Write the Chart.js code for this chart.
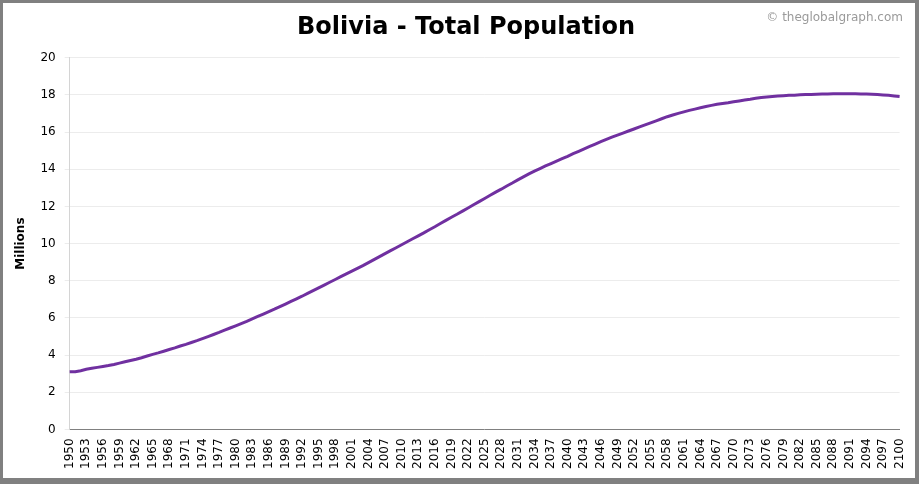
<!DOCTYPE html>
<html>
<head>
<meta charset="utf-8">
<title>Bolivia - Total Population</title>
<script src="https://cdn.jsdelivr.net/npm/chart.js@4.4.0/dist/chart.umd.min.js"></script>
<style>
    html, body { margin: 0; padding: 0; width: 919px; height: 484px; overflow: hidden; background: #808080; }
    #marco { position: absolute; left: 3px; top: 3px; width: 912px; height: 475px; background: #fff; overflow: hidden; }
    #lienzo { position: absolute; left: 0; top: 0; width: 920px; height: 475px; }
    #marca { position: absolute; right: 12px; top: 7px; font: 12px "DejaVu Sans", sans-serif; color: #9a9a9a; }
</style>
</head>
<body>
<div id="marco">
    <div id="lienzo"><canvas id="grafica"></canvas></div>
    <div id="marca">© theglobalgraph.com</div>
</div>
<script>
// Años (categorías del eje X)
const anios = [];
for (let a = 1950; a <= 2100; a++) {
    anios.push(String(a));
}

// Población total en millones
const poblacion = [
    3.10, 3.11, 3.16, 3.24, 3.29, 3.34, 3.39, 3.44, 3.50, 3.57, 3.64,   // 1950-1960
    3.71, 3.78, 3.86, 3.95, 4.04, 4.12, 4.21, 4.30, 4.39, 4.49,         // 1961-1970
    4.58, 4.68, 4.78, 4.89, 5.00, 5.11, 5.22, 5.34, 5.46, 5.58,         // 1971-1980
    5.70, 5.82, 5.95, 6.08, 6.21, 6.34, 6.47, 6.61, 6.75, 6.89,         // 1981-1990
    7.03, 7.17, 7.32, 7.47, 7.62, 7.77, 7.92, 8.07, 8.22, 8.37,         // 1991-2000
    8.52, 8.67, 8.82, 8.98, 9.14, 9.30, 9.46, 9.62, 9.78, 9.94,         // 2001-2010
    10.10, 10.26, 10.42, 10.58, 10.75, 10.91, 11.08, 11.25, 11.42, 11.58, // 2011-2020
    11.75, 11.92, 12.09, 12.26, 12.43, 12.60, 12.77, 12.93, 13.10, 13.26, // 2021-2030
    13.43, 13.59, 13.75, 13.90, 14.04, 14.18, 14.31, 14.44, 14.57, 14.70, // 2031-2040
    14.84, 14.97, 15.10, 15.23, 15.36, 15.49, 15.61, 15.73, 15.84, 15.95, // 2041-2050
    16.06, 16.17, 16.28, 16.39, 16.50, 16.61, 16.72, 16.83, 16.92, 17.01, // 2051-2060
    17.09, 17.17, 17.24, 17.31, 17.38, 17.44, 17.50, 17.54, 17.58, 17.63, // 2061-2070
    17.68, 17.73, 17.77, 17.82, 17.86, 17.89, 17.92, 17.94, 17.96, 17.98, // 2071-2080
    17.99, 18.01, 18.02, 18.03, 18.04, 18.05, 18.05, 18.06, 18.06, 18.06, // 2081-2090
    18.06, 18.06, 18.05, 18.05, 18.04, 18.02, 18.00, 17.98, 17.95, 17.92  // 2091-2100
];

// Marcas del eje Y
const marcasY = [0, 2, 4, 6, 8, 10, 12, 14, 16, 18, 20];

Chart.defaults.font.family = '"DejaVu Sans", Verdana, sans-serif';
Chart.defaults.color = '#000';

function createLineChart() {
    const ctx = document.getElementById('grafica').getContext('2d');
    new Chart(ctx, {
        type: 'line',
        data: {
            labels: anios,
            datasets: [{
                label: 'Total Population',
                data: poblacion,
                borderColor: '#7030a0',
                borderWidth: 3,
                pointRadius: 0,
                fill: false,
                tension: 0
            }]
        },
        options: {
            responsive: true,
            maintainAspectRatio: false,
            animation: false,
            layout: {
                padding: { left: 8, right: 2, top: 0, bottom: 0 }
            },
            plugins: {
                legend: { display: false },
                tooltip: { enabled: false },
                title: {
                    display: true,
                    text: 'Bolivia - Total Population',
                    color: '#000',
                    font: { size: 24, weight: 'bold' },
                    padding: { top: 10, bottom: 16 }
                }
            },
            scales: {
                x: {
                    grid: { color: 'rgba(0,0,0,0)', drawTicks: false },
                    border: { color: '#808080', width: 1 },
                    ticks: {
                        autoSkip: false,
                        minRotation: 90,
                        maxRotation: 90,
                        padding: 9,
                        font: { size: 12 },
                        // solo cada 3 años
                        callback: function (valor, indice) {
                            return indice % 3 === 0 ? anios[indice] : '';
                        }
                    }
                },
                y: {
                    min: marcasY[0],
                    max: marcasY[marcasY.length - 1],
                    afterBuildTicks: function (eje) {
                        eje.ticks = marcasY.map(v => ({ value: v }));
                    },
                    grid: { color: '#ececec', tickLength: 5 },
                    border: { color: '#d4d4d4' },
                    ticks: { padding: 9, font: { size: 12 } },
                    title: {
                        display: true,
                        text: 'Millions',
                        font: { size: 12, weight: 'bold' },
                        padding: { top: 3, bottom: 3 }
                    }
                }
            }
        }
    });
}

createLineChart();
</script>
</body>
</html>
